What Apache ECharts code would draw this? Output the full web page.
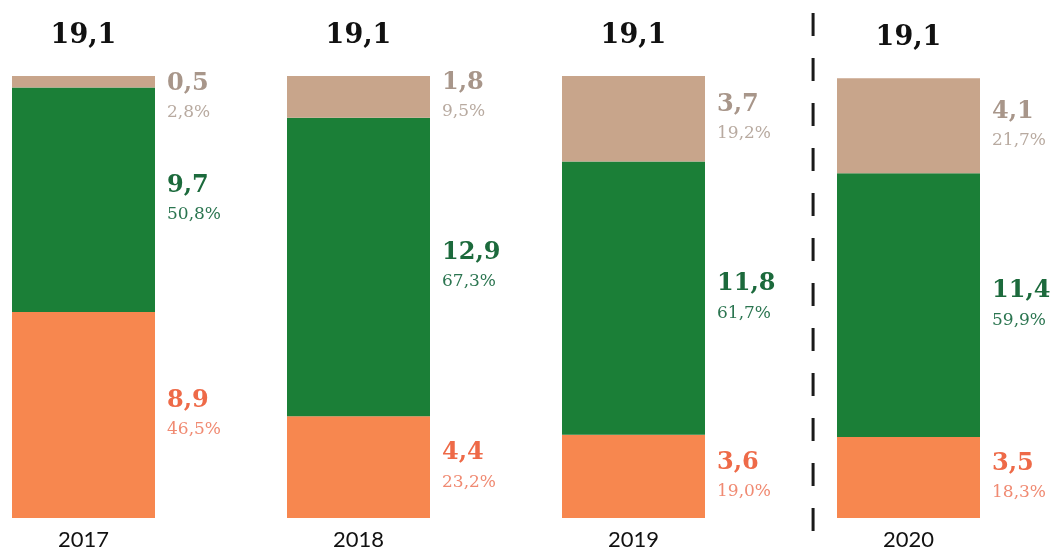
<!DOCTYPE html>
<html><head><meta charset="utf-8">
<script src="https://cdn.jsdelivr.net/npm/echarts@6/dist/echarts.min.js"></script>
<style>html,body{margin:0;padding:0;background:#fff}#c{width:1058px;height:553px}</style>
</head><body><div id="c"></div>
<script>
const categories = ['2017', '2018', '2019', '2020'];
const totals = [19.1, 19.1, 19.1, 19.1];
const orangeValues = [8.9, 4.4, 3.6, 3.5];
const orangePct = [46.5, 23.2, 19.0, 18.3];
const greenValues = [9.7, 12.9, 11.8, 11.4];
const greenPct = [50.8, 67.3, 61.7, 59.9];
const beigeValues = [0.5, 1.8, 3.7, 4.1];
const beigePct = [2.8, 9.5, 19.2, 21.7];
const separatorPos = 2.653; // between 2019 and 2020 (category units)

const fmt = v => v.toFixed(1).replace('.', ',');
const chart = echarts.init(document.getElementById('c'));

function seg(name, values, pcts, color, vColor, pColor) {
  return {
    name, type: 'bar', stack: 't', barWidth: 143,
    itemStyle: { color },
    data: values.map((v, i) => {
      const d = { value: v };
      if (v < 1) d.label = { offset: [0, 16] };
      return d;
    }),
    label: {
      show: true, position: 'right', distance: 12,
      formatter: p => '{v|' + fmt(values[p.dataIndex]) + '}\n{p|' + fmt(pcts[p.dataIndex]) + '%}',
      rich: {
        v: { fontFamily: 'DejaVu Serif', fontWeight: 'bold', fontSize: 24, color: vColor, lineHeight: 30 },
        p: { fontFamily: 'DejaVu Serif', fontSize: 17, color: pColor, lineHeight: 28 }
      }
    }
  };
}

chart.setOption({
  animation: false,
  grid: { left: -54, right: 12, top: 76, bottom: 35, containLabel: false, outerBoundsMode: 'none' },
  xAxis: {
    type: 'category', data: categories,
    axisLine: { show: false }, axisTick: { show: false },
    axisLabel: { fontFamily: 'Lato', fontSize: 22, color: '#111', margin: 11 }
  },
  yAxis: { type: 'value', min: 0, max: 19.1, show: false, splitLine: { show: false } },
  series: [
    seg('orange', orangeValues, orangePct, '#f7874f', '#ee6a48', '#f08a72'),
    seg('green', greenValues, greenPct, '#1b7f37', '#1c6a3c', '#2b7550'),
    seg('beige', beigeValues, beigePct, '#c8a58b', '#a8968a', '#b8aaa0'),
    {
      name: 'total', type: 'bar', stack: 't', barWidth: 143,
      data: categories.map(() => 0),
      itemStyle: { color: 'transparent' },
      label: {
        show: true, position: 'top', distance: 27,
        formatter: p => fmt(totals[p.dataIndex]),
        fontFamily: 'DejaVu Serif', fontWeight: 'bold', fontSize: 27, color: '#111'
      }
    }
  ]
});

const c2 = chart.convertToPixel({ xAxisIndex: 0 }, 2);
const c3 = chart.convertToPixel({ xAxisIndex: 0 }, 3);
const sx = c2 + (separatorPos - 2) * (c3 - c2);
chart.setOption({
  graphic: [{
    type: 'line', shape: { x1: sx, y1: 13, x2: sx, y2: 553 },
    style: { stroke: '#1a1a1a', lineWidth: 3, lineDash: [23, 22] }
  }]
});
</script></body></html>
